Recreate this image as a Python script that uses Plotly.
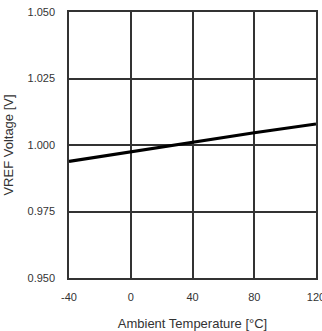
import plotly.graph_objects as go

temps = [-40, 0, 40, 80, 120]
vref = [0.9938, 0.9975, 1.0012, 1.0046, 1.0079]
x_ticks = [-40, 0, 40, 80, 120]
y_ticks = [0.950, 0.975, 1.000, 1.025, 1.050]
y_tick_text = ["0.950", "0.975", "1.000", "1.025", "1.050"]

fig = go.Figure()
fig.add_trace(go.Scatter(x=temps, y=vref, mode="lines",
                         line=dict(color="black", width=3.2), showlegend=False))

fig.update_layout(
    width=322, height=331,
    margin=dict(l=69, r=6, t=12, b=53),
    paper_bgcolor="white", plot_bgcolor="white",
    font=dict(family="Liberation Sans, Arial, sans-serif", size=11, color="#333"),
)
fig.update_xaxes(range=[-40, 120], tickvals=x_ticks, ticktext=[str(v) for v in x_ticks],
                 showgrid=True, gridcolor="#333", gridwidth=1.5,
                 showline=True, linecolor="#333", linewidth=1.5, mirror=True,
                 zeroline=False, ticks="", ticklabelstandoff=8,
                 ticklabeloverflow="allow", automargin=False,
                 title=dict(text="Ambient Temperature [°C]", font=dict(size=13), standoff=20))
fig.update_yaxes(range=[0.950, 1.050], tickvals=y_ticks, ticktext=y_tick_text,
                 showgrid=True, gridcolor="#333", gridwidth=1.5,
                 showline=True, linecolor="#333", linewidth=1.5, mirror=True,
                 zeroline=False, ticks="", ticklabelstandoff=10, automargin=False,
                 title=dict(text="VREF Voltage [V]", font=dict(size=13), standoff=11))

fig.write_html("out.html")
